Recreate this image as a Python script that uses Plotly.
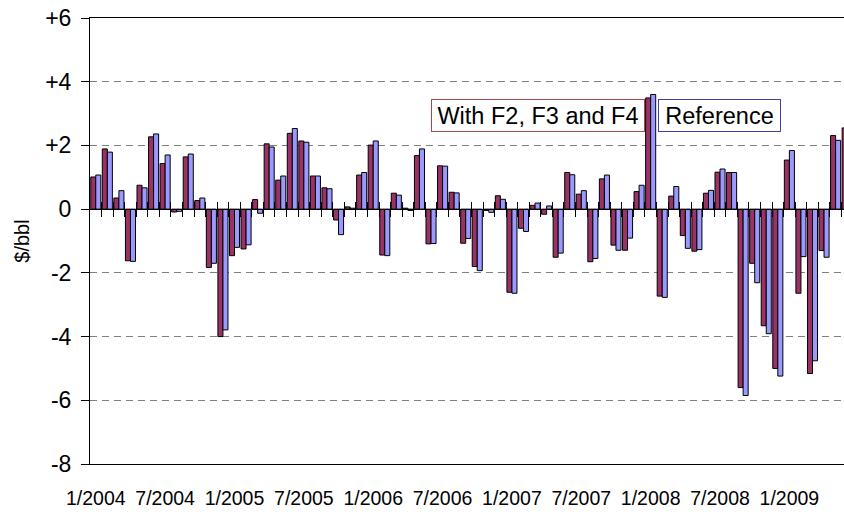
import plotly.graph_objects as go

# ---- data -------------------------------------------------------------
months = [f"{m}/{y}" for y in range(2004, 2010) for m in range(1, 13)][:66]

with_f2_f3_f4 = [1.01, 1.89, 0.35, -1.62, 0.75, 2.27, 1.43, -0.09, 1.64, 0.27,
                 -1.83, -4.00, -1.46, -1.25, 0.30, 2.05, 0.91, 2.38, 2.14, 1.04,
                 0.67, -0.34, 0.07, 1.07, 2.01, -1.44, 0.50, 0.03, 1.68, -1.09,
                 1.36, 0.53, -1.07, -1.80, -0.04, 0.42, -2.61, -0.60, 0.12, -0.16,
                 -1.51, 1.15, 0.47, -1.65, 0.95, -1.13, -1.29, 0.55, 3.49, -2.73,
                 0.41, -0.83, -1.32, 0.50, 1.16, 1.15, -5.60, -1.70, -3.66, -5.00,
                 1.54, -2.64, -5.16, -1.30, 2.31, 2.55]

reference = [1.07, 1.79, 0.58, -1.64, 0.67, 2.36, 1.70, -0.07, 1.73, 0.35,
             -1.70, -3.79, -1.20, -1.12, -0.13, 1.95, 1.04, 2.53, 2.10, 1.04,
             0.64, -0.80, 0.03, 1.15, 2.14, -1.46, 0.44, -0.04, 1.89, -1.08,
             1.35, 0.51, -0.92, -1.93, -0.10, 0.31, -2.64, -0.70, 0.19, 0.10,
             -1.38, 1.08, 0.58, -1.55, 1.07, -1.29, -0.91, 0.75, 3.60, -2.77,
             0.71, -1.23, -1.27, 0.59, 1.26, 1.15, -5.85, -2.31, -3.91, -5.24,
             1.84, -1.49, -4.76, -1.51, 2.16, None]

y_ticks = [-8, -6, -4, -2, 0, 2, 4, 6]
y_tick_text = ["-8", "-6", "-4", "-2", "0", "+2", "+4", "+6"]
x_tick_labels = months[::6]

series_names = ["With F2, F3 and F4", "Reference"]
series_colors = ["#993366", "#9999FF"]
box_colors = ["#A94646", "#4040A8"]

# ---- figure -----------------------------------------------------------
W, H = 844, 514
ML, MR, MT, MB = 90, 0, 18, 50
cat_px = 11.56
x_lo = -0.5
x_hi = x_lo + (W - ML - MR) / cat_px
y_lo, y_hi = -8, 6

fig = go.Figure()
for name, vals, col in zip(series_names, [with_f2_f3_f4, reference], series_colors):
    fig.add_trace(go.Bar(
        x=months, y=vals, name=name,
        marker=dict(color=col, line=dict(color="black", width=1)),
        showlegend=False,
    ))

# helper (empty) traces so the zero-line tick axes are created
fig.add_trace(go.Scatter(x=[], y=[], xaxis="x2", yaxis="y", showlegend=False, hoverinfo="skip"))
fig.add_trace(go.Scatter(x=[], y=[], xaxis="x3", yaxis="y", showlegend=False, hoverinfo="skip"))

boundaries = [i + 0.5 for i in range(len(months))]
zero_pos = (0 - y_lo) / (y_hi - y_lo)

fig.update_layout(
    width=W, height=H,
    margin=dict(l=ML, r=MR, t=MT, b=MB, autoexpand=False),
    paper_bgcolor="white", plot_bgcolor="white",
    barmode="group", bargap=0.13, bargroupgap=0,
    font=dict(family="Liberation Sans, Arial, sans-serif", color="black"),
    xaxis=dict(
        type="category", categoryorder="array", categoryarray=months,
        range=[x_lo, x_hi],
        tickmode="array", tickvals=x_tick_labels, ticktext=x_tick_labels,
        ticks="", ticklabelstandoff=17, tickangle=0,
        tickfont=dict(family="Liberation Sans Narrow, Arial Narrow, Liberation Sans, sans-serif",
                      size=19.5, color="black"),
        showline=True, linecolor="black", linewidth=1, mirror=True,
        showgrid=False, zeroline=False, automargin=False,
    ),
    xaxis2=dict(
        overlaying="x", anchor="free", position=zero_pos, range=[x_lo, x_hi],
        tickmode="array", tickvals=boundaries, showticklabels=False,
        ticks="outside", ticklen=7, tickcolor="black", tickwidth=1,
        showline=True, linecolor="black", linewidth=1,
        showgrid=False, zeroline=False,
    ),
    xaxis3=dict(
        overlaying="x", anchor="free", position=zero_pos, range=[x_lo, x_hi],
        tickmode="array", tickvals=boundaries, showticklabels=False,
        ticks="inside", ticklen=7, tickcolor="black", tickwidth=1,
        showline=False, showgrid=False, zeroline=False,
    ),
    yaxis=dict(
        range=[y_lo, y_hi], tickmode="array", tickvals=y_ticks, ticktext=y_tick_text,
        ticks="outside", ticklen=8, tickcolor="black", ticklabelstandoff=5,
        tickfont=dict(size=23, color="black"),
        showline=True, linecolor="black", linewidth=1,
        showgrid=True, gridcolor="#808080", gridwidth=1, griddash="7px,5px",
        zeroline=False, automargin=False,
        title=dict(text="$/bbl", font=dict(size=20, color="black"), standoff=10),
    ),
)

box_x = [0.5947, 0.8354]
box_w = [210, 119]
for name, col, bx, bw in zip(series_names, box_colors, box_x, box_w):
    fig.add_annotation(
        xref="paper", yref="paper", x=bx, y=0.781,
        xanchor="center", yanchor="middle",
        text=name, showarrow=False,
        font=dict(size=23.5, color="black"),
        bgcolor="white", bordercolor=col, borderwidth=1, borderpad=1,
        width=bw, height=29,
    )

fig.write_html("out.html", config={"displayModeBar": False},
               post_script="document.body.style.margin='0';")
